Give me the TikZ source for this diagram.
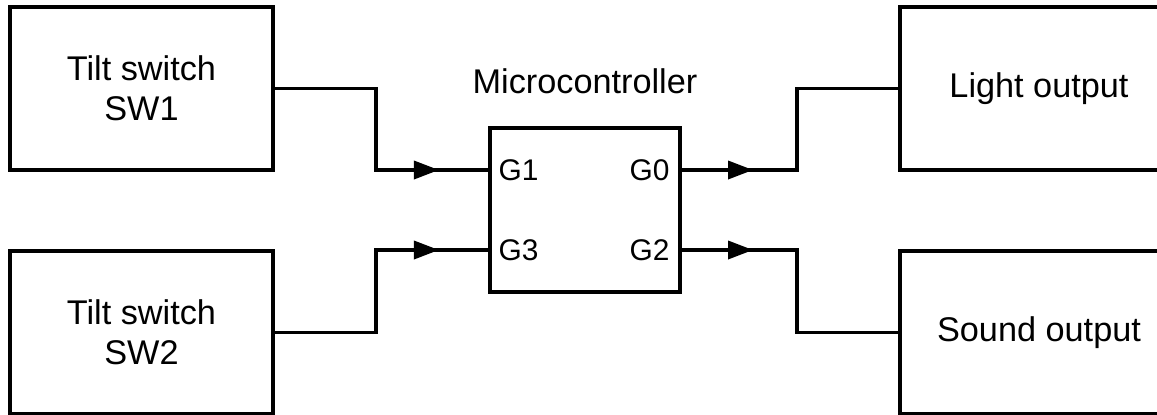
\documentclass[tikz,border=0pt]{standalone}
\usepackage{fontspec}
\setmainfont{Liberation Sans}
\usetikzlibrary{positioning,decorations.markings,arrows.meta}

\tikzset{
  block/.style={draw, line width=2pt, align=center, inner sep=0pt,
    font=\fontsize{19.5}{22.5}\selectfont},
  swbox/.style={block, minimum width=5.26cm, minimum height=3.26cm},
  outbox/.style={block, minimum width=5.56cm, minimum height=3.26cm},
  mcubox/.style={block, minimum width=3.8cm, minimum height=3.28cm},
  pin/.style={inner sep=0pt, font=\fontsize{17}{20}\selectfont},
  wire/.style={line width=2pt},
  midarrow/.style={postaction={decorate}, decoration={markings,
    mark=at position #1 with {\arrow{Triangle[length=0.5cm, width=0.36cm]}}}}
}

\begin{document}
\begin{tikzpicture}
  \clip (0,0) rectangle (23.14,-8.28);
  \useasboundingbox (0,0) rectangle (23.14,-8.28);
  % blocks
  \path (2.83,-1.77) node[swbox] (sw1) {Tilt switch\\SW1};
  \path (2.83,-6.65) node[swbox] (sw2) {Tilt switch\\SW2};
  \path (11.70,-4.20) node[mcubox] (mcu) {};
  \node[block, draw=none, above=0.62cm of mcu] (mcuname) {Microcontroller};
  \path (20.78,-1.77) node[outbox] (light) {Light output};
  \path (20.78,-6.65) node[outbox] (sound) {Sound output};
  % pins
  \node[pin, anchor=west] (g1) at ([xshift=0.2cm, yshift=0.8cm]mcu.west) {G1};
  \node[pin, anchor=west] (g3) at ([xshift=0.2cm, yshift=-0.8cm]mcu.west) {G3};
  \node[pin, anchor=east] (g0) at ([xshift=-0.24cm, yshift=0.8cm]mcu.east) {G0};
  \node[pin, anchor=east] (g2) at ([xshift=-0.24cm, yshift=-0.8cm]mcu.east) {G2};
  % bends
  \path (mcu.west |- g1) ++(-2.24,0) coordinate (j1);
  \path (mcu.west |- g3) ++(-2.24,0) coordinate (j3);
  \path (mcu.east |- g0) ++(2.3,0) coordinate (j0);
  \path (mcu.east |- g2) ++(2.3,0) coordinate (j2);
  % wires
  \begin{scope}[wire]
    \draw (sw1.east) -| (j1) -- (mcu.west |- g1);
    \draw[midarrow=0.56] (j1) -- (mcu.west |- g1);
    \draw (sw2.east) -| (j3) -- (mcu.west |- g3);
    \draw[midarrow=0.56] (j3) -- (mcu.west |- g3);
    \draw (mcu.east |- g0) -- (j0) |- (light.west);
    \draw[midarrow=0.62] (mcu.east |- g0) -- (j0);
    \draw (mcu.east |- g2) -- (j2) |- (sound.west);
    \draw[midarrow=0.62] (mcu.east |- g2) -- (j2);
  \end{scope}
\end{tikzpicture}
\end{document}
